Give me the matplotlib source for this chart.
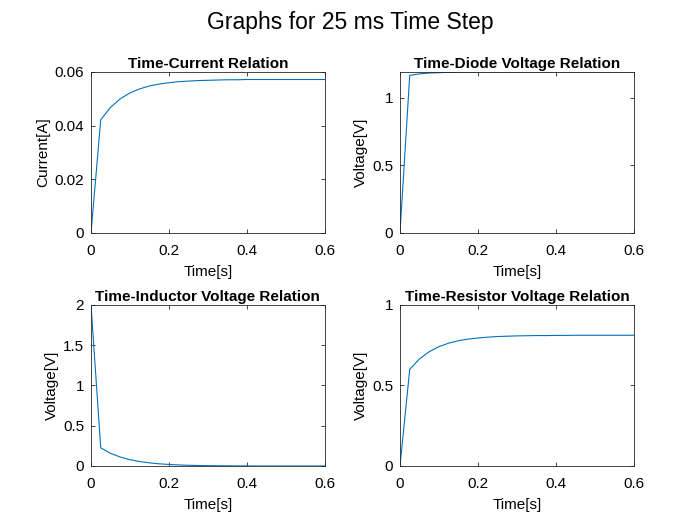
import numpy as np
import matplotlib
matplotlib.use("Agg")
from matplotlib import pyplot as plt

plt.rcParams['font.family'] = ['Liberation Sans', 'DejaVu Sans']

# time axis, 25 ms step
t = [0.000, 0.025, 0.050, 0.075, 0.100, 0.125, 0.150, 0.175, 0.200, 0.225,
     0.250, 0.275, 0.300, 0.325, 0.350, 0.375, 0.400, 0.425, 0.450, 0.475,
     0.500, 0.525, 0.550, 0.575, 0.600]

current = [0.0, 0.0422, 0.0468, 0.0500, 0.0522, 0.0537, 0.0548, 0.0555,
           0.0560, 0.0564, 0.0566, 0.0568, 0.0569, 0.0570, 0.0571, 0.0571,
           0.0572, 0.0572, 0.0572, 0.0572, 0.0572, 0.0572, 0.0572, 0.0572, 0.0572]

v_diode = [0.0, 1.165, 1.176, 1.182, 1.185, 1.187, 1.188, 1.189, 1.189,
           1.190, 1.190, 1.190, 1.190, 1.190, 1.190, 1.190, 1.190, 1.190,
           1.190, 1.190, 1.190, 1.190, 1.190, 1.190, 1.190]

v_inductor = [2.0, 0.225, 0.158, 0.111, 0.078, 0.055, 0.039, 0.027, 0.019,
              0.013, 0.009, 0.006, 0.004, 0.003, 0.002, 0.001, 0.001, 0.0,
              0.0, 0.0, 0.0, 0.0, 0.0, 0.0, 0.0]

v_resistor = [0.0, 0.600, 0.665, 0.710, 0.741, 0.763, 0.778, 0.788, 0.795,
              0.800, 0.804, 0.806, 0.808, 0.809, 0.810, 0.810, 0.811, 0.811,
              0.812, 0.812, 0.812, 0.812, 0.812, 0.812, 0.812]

titles = ["Time-Current Relation", "Time-Diode Voltage Relation",
          "Time-Inductor Voltage Relation", "Time-Resistor Voltage Relation"]
ylabels = ["Current[A]", "Voltage[V]", "Voltage[V]", "Voltage[V]"]
series = [current, v_diode, v_inductor, v_resistor]
ylims = [(0, 0.06), (0, 1.19), (0, 2), (0, 1)]
yticks = [[0, 0.02, 0.04, 0.06], [0, 0.5, 1], [0, 0.5, 1, 1.5, 2], [0, 0.5, 1]]
ytlabels = [["0", "0.02", "0.04", "0.06"], ["0", "0.5", "1"],
            ["0", "0.5", "1", "1.5", "2"], ["0", "0.5", "1"]]

fig = plt.figure(figsize=(7, 5.25), dpi=100)
fig.suptitle("Graphs for 25 ms Time Step", fontsize=16.5, y=0.98)

positions = [[0.13, 0.5562, 0.334, 0.3067], [0.5714, 0.5562, 0.334, 0.3067],
             [0.13, 0.1124, 0.334, 0.3067], [0.5714, 0.1124, 0.334, 0.3067]]

for i in range(4):
    ax = fig.add_axes(positions[i])
    ax.plot(t, series[i], color='#0072BD', linewidth=0.8)
    ax.set_xlim(0, 0.6)
    ax.set_ylim(*ylims[i])
    ax.set_xticks([0, 0.2, 0.4, 0.6])
    ax.set_xticklabels(["0", "0.2", "0.4", "0.6"])
    ax.set_yticks(yticks[i])
    ax.set_yticklabels(ytlabels[i])
    ax.tick_params(direction='in', top=True, right=True, labelsize=11,
                   length=3, width=0.6, colors='#262626', labelcolor='black')
    ax.tick_params(axis='x', pad=8)
    ax.tick_params(axis='y', pad=5)
    for s in ax.spines.values():
        s.set_linewidth(0.6)
        s.set_color('#262626')
    ax.set_title(titles[i], fontsize=11, fontweight='bold', pad=3)
    ax.set_xlabel("Time[s]", fontsize=11, labelpad=5)
    ax.set_ylabel(ylabels[i], fontsize=11, labelpad=3)

plt.savefig("out.png", dpi=100)
